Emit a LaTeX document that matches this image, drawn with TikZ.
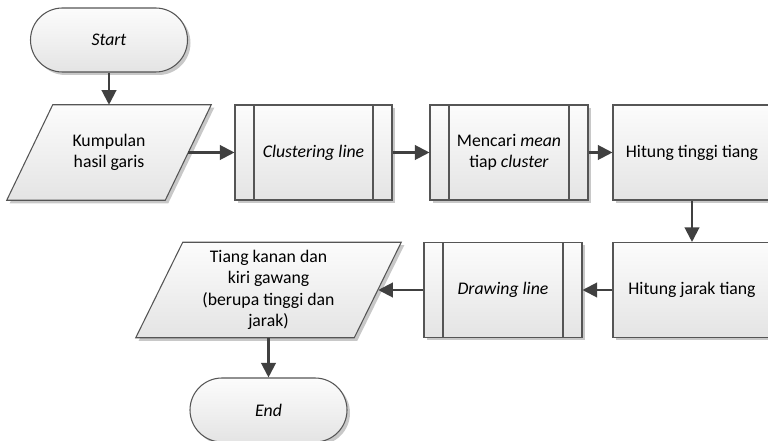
\documentclass[tikz,border=0pt]{standalone}
\usepackage{fontspec}
\setmainfont{Carlito}
\usetikzlibrary{arrows.meta,shadows,backgrounds}

\definecolor{edgegray}{RGB}{85,85,85}
\definecolor{arrowgray}{RGB}{64,64,64}
\definecolor{filltop}{RGB}{252,252,252}
\definecolor{fillbot}{RGB}{228,228,228}
\definecolor{shadowgray}{RGB}{200,200,200}

\tikzset{
  x=0.75pt, y=-0.75pt,
  every node/.style={font=\fontsize{13.3pt}{16pt}\selectfont, align=center, inner sep=0pt},
  shapefill/.style={draw=edgegray, line width=0.8pt, top color=filltop, bottom color=fillbot,
    drop shadow={shadow xshift=2.25pt, shadow yshift=-2.25pt, fill=shadowgray, opacity=1}},
  terminal/.style={shapefill, rectangle, rounded corners=24pt, minimum width=117.75pt, minimum height=48pt},
  procbox/.style={shapefill, rectangle, minimum width=118.5pt, minimum height=71.25pt},
  subproc/.style={procbox, path picture={
      \draw[edgegray, line width=0.8pt]
        ([xshift=14.25pt]path picture bounding box.north west) -- ([xshift=14.25pt]path picture bounding box.south west)
        ([xshift=-14.25pt]path picture bounding box.north east) -- ([xshift=-14.25pt]path picture bounding box.south east);}},
  iobox/.style={rectangle, minimum height=71.25pt},
  iofill/.style={shapefill, sharp corners},
  flow/.style={draw=arrowgray, line width=1.6pt, -{Triangle[length=11pt,width=11pt]}},
}

\begin{document}
\begin{tikzpicture}
\useasboundingbox (0,0) rectangle (768,441);

% terminals and process boxes
\node[terminal] (start) at (109,40) {\textit{Start}};
\node[iobox, minimum width=153pt] (input) at (109,152.5) {Kumpulan\\hasil garis};
\node[subproc, minimum width=117.75pt] (clus) at (313.5,152.5) {\textit{Clustering line}};
\node[subproc] (mean) at (509,152.5) {Mencari \textit{mean}\\tiap \textit{cluster}};
\node[procbox] (tinggi) at (692,152.5) {Hitung tinggi tiang};
\node[procbox] (jarak) at (692,290) {Hitung jarak tiang};
\node[subproc] (draw) at (503,290) {\textit{Drawing line}};
\node[iobox, minimum width=198.75pt] (output) at (268.5,290) {Tiang kanan dan\\kiri gawang\\(berupa tinggi dan\\jarak)};
\node[terminal] (end) at (268.5,410) {\textit{End}};

% parallelogram outlines behind the data nodes
\begin{scope}[on background layer]
  \path[iofill] ([xshift=34.5pt]input.north west) -- (input.north east)
    -- ([xshift=-34.5pt]input.south east) -- (input.south west) -- cycle;
  \path[iofill] ([xshift=35.25pt]output.north west) -- (output.north east)
    -- ([xshift=-35.25pt]output.south east) -- (output.south west) -- cycle;
\end{scope}

% connectors
\draw[flow] (start) -- (input);
\draw[flow] ([xshift=-17.25pt]input.east) -- (clus);
\draw[flow] (clus) -- (mean);
\draw[flow] (mean) -- (tinggi);
\draw[flow] (tinggi) -- (jarak);
\draw[flow] (jarak) -- (draw);
\draw[flow] (draw) -- ([xshift=-17.25pt]output.east);
\draw[flow] (output) -- (end);
\end{tikzpicture}
\end{document}
